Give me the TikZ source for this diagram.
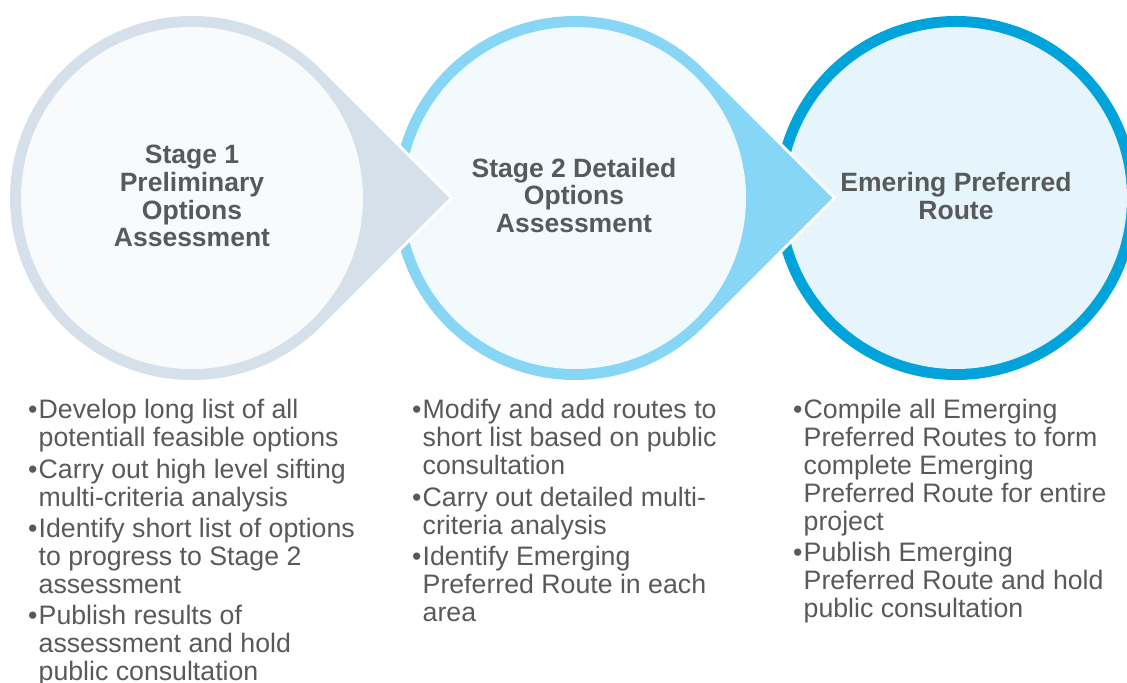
\documentclass[tikz,border=0pt]{standalone}
\usepackage{fontspec}
\setmainfont{Liberation Sans}
\usetikzlibrary{calc}
\definecolor{txt}{HTML}{58595B}
\definecolor{ringA}{HTML}{D5E0EB}
\definecolor{fillA}{HTML}{F8FAFC}
\definecolor{ringB}{HTML}{87D6F6}
\definecolor{fillB}{HTML}{F2FAFE}
\definecolor{ringC}{HTML}{00A3DA}
\definecolor{fillC}{HTML}{E5F5FB}
\newcommand\tearshape[1]{(#1,485) ++(45:182bp) arc[start angle=45,end angle=315,radius=182bp] -- ($(#1,485)+(257.4bp,0)$) -- cycle}
\newcommand\bl{\makebox[10.5bp][l]{•}}
\begin{document}
\begin{tikzpicture}[x=1bp,y=1bp,
  title/.style={align=center, font=\fontsize{26.6}{28}\selectfont\bfseries, text=txt, inner sep=0pt},
  bul/.style={anchor=base west, inner sep=0pt, font=\fontsize{26.8}{28}\selectfont, text=txt},
  outline/.style={draw=white, line width=6bp}]
\useasboundingbox (0,0) rectangle (1127,683);
% circle 3 (back)
\fill[ringC] (956,485) circle[radius=182bp];
\fill[fillC] (956,485) circle[radius=171bp];
% circle 2
\path[outline] \tearshape{575};
\fill[ringB] \tearshape{575};
\fill[fillB] (575,485) circle[radius=171bp];
% circle 1 (front)
\path[outline] \tearshape{192};
\fill[ringA] \tearshape{192};
\fill[fillA] (192,485) circle[radius=171bp];
% titles
\node[title] (t1) at (192,487) {Stage 1\\Preliminary\\Options\\Assessment};
\node[title] (t2) at (574,487.5) {Stage 2 Detailed\\Options\\Assessment};
\node[title] (t3) at (956,487) {Emering Preferred\\Route};
% bullet lists
\node[bul] (b1) at (28,264) {\begin{tabular}[t]{@{}l@{}l@{}}
\bl & Develop long list of all\\
 & potentiall feasible options\\[3.5bp]
\bl & Carry out high level sifting\\
 & multi-criteria analysis\\[3.5bp]
\bl & Identify short list of options\\
 & to progress to Stage 2\\
 & assessment\\[3.5bp]
\bl & Publish results of\\
 & assessment and hold\\
 & public consultation
\end{tabular}};
\node[bul] (b2) at (412,264) {\begin{tabular}[t]{@{}l@{}l@{}}
\bl & Modify and add routes to\\
 & short list based on public\\
 & consultation\\[3.5bp]
\bl & Carry out detailed multi-\\
 & criteria analysis\\[3.5bp]
\bl & Identify Emerging\\
 & Preferred Route in each\\
 & area
\end{tabular}};
\node[bul] (b3) at (793,264) {\begin{tabular}[t]{@{}l@{}l@{}}
\bl & Compile all Emerging\\
 & Preferred Routes to form\\
 & complete Emerging\\
 & Preferred Route for entire\\
 & project\\[3.5bp]
\bl & Publish Emerging\\
 & Preferred Route and hold\\
 & public consultation
\end{tabular}};
\end{tikzpicture}
\end{document}
